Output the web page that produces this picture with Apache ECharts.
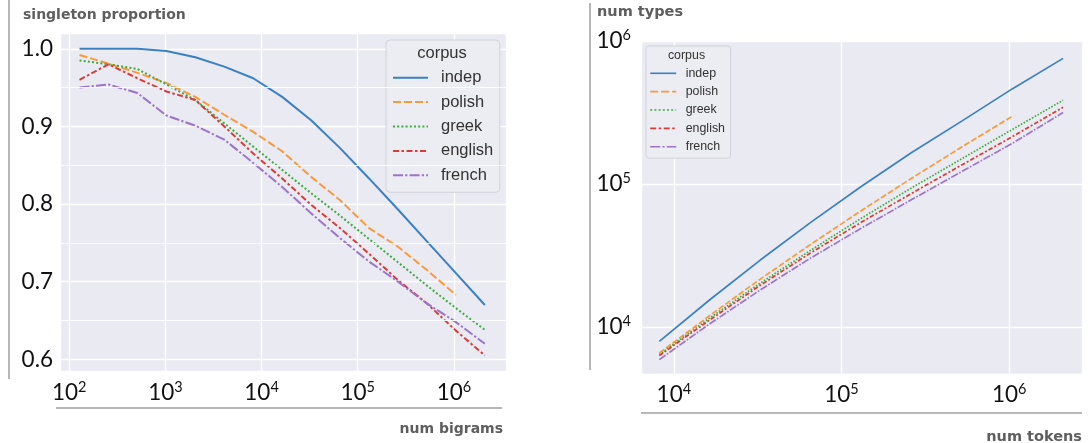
<!DOCTYPE html>
<html><head><meta charset="utf-8">
<script src="https://cdn.jsdelivr.net/npm/echarts@6/dist/echarts.min.js"></script>
<style>html,body{margin:0;padding:0;background:#fff}#c{width:1092px;height:443px}</style>
</head><body><div id="c"></div>
<script>
// ---------- data ----------
const corpora = ['indep', 'polish', 'greek', 'english', 'french'];

// left panel: singleton proportion vs number of bigrams
const bigramsX = [128, 256, 512, 1024, 2048, 4096, 8192, 16384, 32768, 65536, 131072, 262144, 524288, 1048576, 2097152];
const singletonIndep   = [1.000, 1.000, 1.000, 0.997, 0.989, 0.977, 0.962, 0.938, 0.908, 0.872, 0.833, 0.793, 0.752, 0.711, 0.670];
const singletonPolish  = [0.992, 0.981, 0.969, 0.956, 0.938, 0.915, 0.893, 0.868, 0.835, 0.805, 0.769, 0.745, 0.715, 0.683];
const singletonGreek   = [0.985, 0.980, 0.974, 0.954, 0.934, 0.904, 0.874, 0.844, 0.814, 0.785, 0.755, 0.725, 0.695, 0.666, 0.638];
const singletonEnglish = [0.960, 0.980, 0.962, 0.945, 0.934, 0.900, 0.865, 0.833, 0.799, 0.769, 0.736, 0.702, 0.672, 0.637, 0.605];
const singletonFrench  = [0.950, 0.954, 0.943, 0.914, 0.901, 0.883, 0.853, 0.822, 0.788, 0.756, 0.726, 0.700, 0.672, 0.648, 0.620];
const singletonTicks = [0.6, 0.7, 0.8, 0.9, 1.0];
const singletonMinorTicks = [0.65, 0.75, 0.85, 0.95];

// right panel: number of types vs number of tokens
const tokensX = [8192, 16384, 32768, 65536, 131072, 262144, 524288, 1048576, 2097152];
const typesIndep   = [7890, 15450, 29300, 53800, 95900, 165600, 276000, 464000, 756000];
const typesPolish  = [6550, 11980, 21560, 37740, 64900, 109500, 182000, 298000];
const typesGreek   = [6380, 11530, 20200, 34300, 57400, 93800, 150300, 241000, 385000];
const typesEnglish = [6280, 11170, 19500, 32900, 53800, 85900, 136100, 214300, 343600];
const typesFrench  = [5890, 10490, 18100, 30300, 48900, 77600, 122500, 192800, 315500];

const leftSeriesVals = [singletonIndep, singletonPolish, singletonGreek, singletonEnglish, singletonFrench];
const rightSeriesVals = [typesIndep, typesPolish, typesGreek, typesEnglish, typesFrench];

// ---------- styles ----------
const colors = ['#3a80c3', '#f89a3c', '#3fab3f', '#d93c38', '#9b74cb'];
const dashesL = ['solid', [8, 3], [2, 2.2], [6, 2.5, 2.5, 2.5], [10, 2.2, 2.2, 2.2]];
const dashesR = ['solid', [6, 2.2], [1.6, 1.6], [4.5, 2, 2, 2], [7.5, 1.6, 1.6, 1.6]];
const TICKFONT = 'Lato, "DejaVu Sans", sans-serif';
const LEGFONT = '"Liberation Sans", Arial, sans-serif';
const TITLEFONT = '"DejaVu Sans", sans-serif';

function powFmt(v) {
  const l = Math.log10(v), r = Math.round(l);
  return Math.abs(l - r) < 1e-6 ? '{b|10}{s|' + r + '}' : '';
}
function decFmt(v) {
  return singletonTicks.some(t => Math.abs(t - v) < 1e-6) ? v.toFixed(1) : '';
}
const powRich = {
  b: { fontSize: 22.5, fontFamily: TICKFONT, color: '#111', lineHeight: 26 },
  s: { fontSize: 14.5, fontFamily: TICKFONT, color: '#111', lineHeight: 16, verticalAlign: 'top' }
};
const splitL = { show: true, lineStyle: { color: '#ffffff', width: 1.3 } };

const series = [];
corpora.forEach((name, i) => {
  series.push({
    name, type: 'line', xAxisIndex: 0, yAxisIndex: 0, symbol: 'none', z: 3,
    data: leftSeriesVals[i].map((v, j) => [bigramsX[j], v]),
    lineStyle: { color: colors[i], width: 2, type: dashesL[i] },
    itemStyle: { color: colors[i] }
  });
});
corpora.forEach((name, i) => {
  series.push({
    name, type: 'line', xAxisIndex: 1, yAxisIndex: 1, symbol: 'none', z: 3,
    data: rightSeriesVals[i].map((v, j) => [tokensX[j], v]),
    lineStyle: { color: colors[i], width: 1.7, type: dashesR[i] },
    itemStyle: { color: colors[i] }
  });
});
// minor gridlines of the left panel
series.push({
  name: 'minor', type: 'line', xAxisIndex: 0, yAxisIndex: 0, data: [], z: 1, silent: true,
  markLine: {
    silent: true, symbol: 'none', label: { show: false }, animation: false,
    lineStyle: { color: '#ffffff', width: 0.9, type: 'solid' },
    data: singletonMinorTicks.map(v => ({ yAxis: v }))
  }
});

const txt = (t, x, y, size, align, extra) => ({
  type: 'text', x, y, z: 100,
  style: Object.assign({ text: t, fontSize: size, fontWeight: 'bold', fontFamily: TITLEFONT, fill: '#5e5e5e', align, verticalAlign: 'middle' }, extra || {})
});
const ln = (x1, y1, x2, y2) => ({ type: 'line', z: 50, shape: { x1, y1, x2, y2 }, style: { stroke: '#a0a0a0', lineWidth: 1.5 } });
const hiddenSymbol = { color: 'rgba(0,0,0,0)', borderWidth: 0, opacity: 0 };

const option = {
  animation: false,
  backgroundColor: '#ffffff',
  grid: [
    { left: 60, right: 1092 - 506, top: 33, bottom: 443 - 371, show: true, backgroundColor: '#eaeaf2', borderWidth: 0 },
    { left: 641, right: 10, top: 41, bottom: 443 - 374, show: true, backgroundColor: '#eaeaf2', borderWidth: 0 }
  ],
  xAxis: [
    { type: 'log', logBase: 10, gridIndex: 0, min: 80.2, max: 3.48e6,
      axisLine: { show: false }, axisTick: { show: false }, splitLine: splitL,
      axisLabel: { interval: 0, margin: 9, formatter: powFmt, rich: powRich } },
    { type: 'log', logBase: 10, gridIndex: 1, min: 6368, max: 2.72e6,
      axisLine: { show: false }, axisTick: { show: false }, splitLine: splitL,
      axisLabel: { interval: 0, margin: 8, formatter: powFmt, rich: powRich } }
  ],
  yAxis: [
    { type: 'value', gridIndex: 0, min: 0.585, max: 1.0203, splitNumber: 4,
      axisLine: { show: false }, axisTick: { show: false }, splitLine: splitL,
      axisLabel: { interval: 0, margin: 7, formatter: decFmt, fontSize: 22.5, fontFamily: TICKFONT, color: '#111' } },
    { type: 'log', logBase: 10, gridIndex: 1, min: 4670, max: 1e6,
      axisLine: { show: false }, axisTick: { show: false }, splitLine: splitL,
      axisLabel: { interval: 0, margin: 10, formatter: powFmt, rich: powRich } }
  ],
  legend: [
    { left: 386, top: 40, orient: 'vertical', data: corpora, selectedMode: false,
      itemWidth: 35, itemHeight: 14, itemGap: 4.4, padding: [27.7, 6.5, 7, 6],
      itemStyle: hiddenSymbol,
      backgroundColor: '#ececf3', borderColor: '#d2d2da', borderWidth: 1, borderRadius: 4,
      textStyle: { fontFamily: LEGFONT, fontSize: 16.5, color: '#333', lineHeight: 20, padding: [0, 0, 0, 8] } },
    { left: 646, top: 46, orient: 'vertical', data: corpora, selectedMode: false,
      itemWidth: 26, itemHeight: 10, itemGap: 3.35, padding: [19.8, 5.6, 4, 3.4],
      itemStyle: hiddenSymbol,
      lineStyle: { width: 1.6 },
      backgroundColor: '#ececf3', borderColor: '#d2d2da', borderWidth: 1, borderRadius: 3,
      textStyle: { fontFamily: LEGFONT, fontSize: 12.4, color: '#333', lineHeight: 15, padding: [0, 0, 0, 4.5] } }
  ],
  graphic: [
    ln(9, 0, 9, 379), ln(590, 3, 590, 370), ln(56, 408, 502, 408), ln(641, 413, 1082, 413),
    txt('singleton proportion', 23, 15, 14, 'left'),
    txt('num types', 597, 12.5, 14.5, 'left'),
    txt('num bigrams', 503, 429.5, 14, 'right'),
    txt('num tokens', 1082, 437, 14.5, 'right'),
    txt('corpus', 442, 53.3, 16.5, 'center', { fontWeight: 'normal', fontFamily: LEGFONT, fill: '#333' }),
    txt('corpus', 686.5, 56, 12.4, 'center', { fontWeight: 'normal', fontFamily: LEGFONT, fill: '#333' })
  ],
  series
};
const chart = echarts.init(document.getElementById('c'), null, { renderer: 'canvas' });
chart.setOption(option);
</script></body></html>
